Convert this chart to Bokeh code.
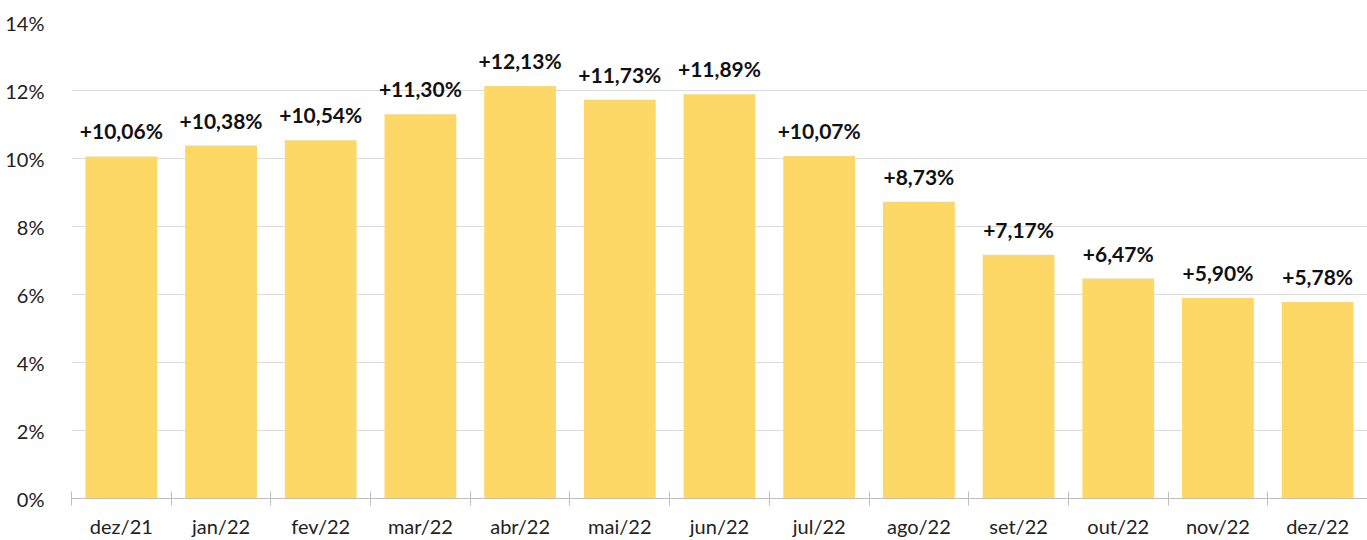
from bokeh.plotting import figure
from bokeh.models import ColumnDataSource, FixedTicker, LabelSet, CustomJSTickFormatter, Range1d
from bokeh.core.properties import value
from bokeh.embed import file_html
from bokeh.resources import INLINE

categories = ["dez/21", "jan/22", "fev/22", "mar/22", "abr/22", "mai/22", "jun/22",
              "jul/22", "ago/22", "set/22", "out/22", "nov/22", "dez/22"]
values = [10.06, 10.38, 10.54, 11.30, 12.13, 11.73, 11.89, 10.07, 8.73, 7.17, 6.47, 5.90, 5.78]
y_ticks = [0, 2, 4, 6, 8, 10, 12, 14]

FONT = "Lato"
x = list(range(len(categories)))
labels = ["+" + f"{v:.2f}".replace(".", ",") + "%" for v in values]
src = ColumnDataSource(dict(x=x, v=values, lab=labels))

p = figure(width=1367, height=540, output_backend="svg", toolbar_location=None,
           x_range=Range1d(-0.5, len(categories) - 0.5), y_range=Range1d(0, 14),
           min_border_left=71, min_border_right=0, min_border_top=22, min_border_bottom=0)
p.outline_line_color = None
p.background_fill_color = "white"

p.vbar(x="x", top="v", width=0.72, source=src, color="#FDD866", line_color=None)

ls = LabelSet(x="x", y="v", text="lab", source=src, text_align="center",
              text_baseline="alphabetic", y_offset=17, text_font=value(FONT),
              text_font_style="bold", text_font_size="21px", text_color="#111111")
p.add_layout(ls)

# x axis
xa = p.xaxis[0]
xa.ticker = FixedTicker(ticks=x, minor_ticks=[i - 0.5 for i in range(len(categories) + 1)])
xa.major_label_overrides = {i: c for i, c in enumerate(categories)}
xa.major_tick_in = 0
xa.major_tick_out = 0
xa.minor_tick_in = 7
xa.minor_tick_out = 7
xa.minor_tick_line_color = "#bfbfbf"
xa.axis_line_color = "#bfbfbf"
xa.major_label_text_font = FONT
xa.major_label_text_font_size = "20px"
xa.major_label_text_color = "#222222"
xa.major_label_standoff = 8
p.xgrid.grid_line_color = None

# y axis
ya = p.yaxis[0]
ya.ticker = FixedTicker(ticks=y_ticks)
ya.formatter = CustomJSTickFormatter(code="return tick + '%';")
ya.axis_line_color = None
ya.major_tick_line_color = None
ya.minor_tick_line_color = None
ya.major_label_text_font = FONT
ya.major_label_text_font_size = "20px"
ya.major_label_text_color = "#222222"
ya.major_label_standoff = 21
p.ygrid.grid_line_color = "#dddddd"
p.ygrid.ticker = FixedTicker(ticks=y_ticks[1:])

open("out.html", "w").write(file_html(p, INLINE))
